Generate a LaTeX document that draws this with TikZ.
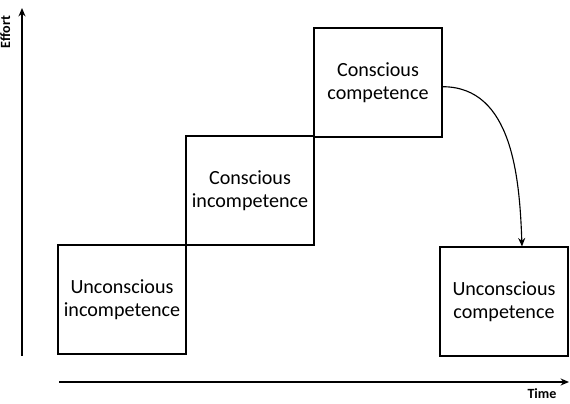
\documentclass[tikz,border=0pt]{standalone}
\usepackage{fontspec}
\setmainfont{Carlito}
\usetikzlibrary{arrows.meta,positioning}

\begin{document}
\begin{tikzpicture}[
        stagebox/.style={rectangle, draw=black, line width=0.8pt, fill=white,
                         minimum width=3.2cm, minimum height=2.725cm, inner sep=0pt,
                         align=center, font=\fontsize{14.3}{16.5}\selectfont},
        axis/.style={-{Stealth[length=6pt,width=5pt]}, line width=1pt},
        flow/.style={-{Stealth[length=6pt,width=5pt]}, line width=0.8pt},
        axlbl/.style={font=\fontsize{10}{12}\selectfont\bfseries}
      ]
        \useasboundingbox (0,0) rectangle (14.25,10.1);
        % axes
        \coordinate (yorig) at (0.55,1.2);
        \coordinate (ytop) at (0.55,9.9);
        \coordinate (xorig) at (1.475,0.55);
        \coordinate (xend) at (14.225,0.55);
        \draw[axis] (yorig) -- (ytop);
        \draw[axis] (xorig) -- (xend);
        \node[axlbl, rotate=90] (effort) at (0.13,9.3) {Effort};
        \node[axlbl] (time) at (13.55,0.25) {Time};
        % stages
        \node[stagebox] (uinc) at (3.05,2.6125) {Unconscious\\incompetence};
        \node[stagebox] (cinc) at (6.25,5.3375) {Conscious\\incompetence};
        \node[stagebox] (ccomp) at (9.45,8.0375) {Conscious\\competence};
        \node[stagebox] (ucomp) at (12.6,2.5625) {Unconscious\\competence};
        \draw[flow] ([yshift=-3pt]ccomp.east) to[out=0, in=92] ([xshift=0.45cm]ucomp.north);
      \end{tikzpicture}
\end{document}
